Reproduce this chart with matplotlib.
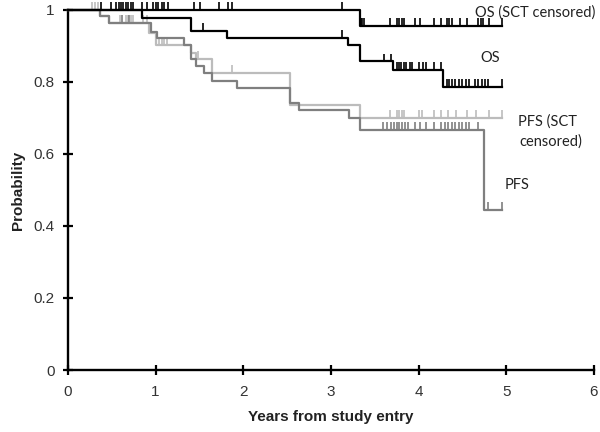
import numpy as np
import matplotlib
matplotlib.use("Agg")
import matplotlib.pyplot as plt

# step curves: times (years) and survival probability after each step
os_t = [0, 0.85, 1.40, 1.81, 3.19, 3.33, 3.71, 4.28, 4.95]
os_s = [1.0, 0.978, 0.942, 0.921, 0.902, 0.857, 0.833, 0.786, 0.786]
os_cens = [1.54, 3.13, 3.60, 3.68, 3.75, 3.78, 3.80, 3.83, 3.86, 3.90, 3.93,
           4.00, 4.05, 4.09, 4.17, 4.25, 4.32, 4.35, 4.38, 4.42, 4.46, 4.50,
           4.54, 4.58, 4.64, 4.68, 4.72, 4.76, 4.79, 4.95]

os_sct_t = [0, 3.33, 4.95]
os_sct_s = [1.0, 0.955, 0.955]
os_sct_cens = [0.38, 0.49, 0.55, 0.58, 0.61, 0.63, 0.66, 0.69, 0.72, 0.74,
               0.85, 0.90, 0.97, 1.00, 1.03, 1.07, 1.10, 1.14, 1.44, 1.51,
               1.72, 1.83, 1.87, 3.13, 3.34, 3.36, 3.38, 3.67, 3.75, 3.78,
               3.81, 3.83, 3.96, 4.02, 4.17, 4.25, 4.32, 4.35, 4.38, 4.47,
               4.55, 4.68, 4.71, 4.74, 4.80, 4.95]

pfs_sct_t = [0, 0.37, 0.47, 0.93, 1.00, 1.40, 1.46, 1.64, 2.53, 3.33, 4.95]
pfs_sct_s = [1.0, 0.983, 0.963, 0.935, 0.903, 0.88, 0.863, 0.824, 0.736, 0.70, 0.70]
pfs_sct_cens = [0.28, 0.31, 0.34, 0.59, 0.66, 0.69, 0.72, 0.74, 0.86, 0.90,
                1.04, 1.07, 1.10, 1.13, 1.49, 1.87, 3.67, 3.75, 3.78, 3.81,
                3.83, 4.00, 4.04, 4.17, 4.25, 4.34, 4.43, 4.55, 4.66, 4.80, 4.95]

pfs_t = [0, 0.37, 0.47, 0.95, 1.02, 1.32, 1.40, 1.46, 1.55, 1.64, 1.93, 2.53,
         2.64, 3.21, 3.33, 4.75, 4.95]
pfs_s = [1.0, 0.983, 0.963, 0.940, 0.921, 0.903, 0.863, 0.843, 0.824, 0.804,
         0.782, 0.741, 0.722, 0.70, 0.667, 0.444, 0.444]
pfs_cens = [0.62, 0.70, 3.59, 3.64, 3.69, 3.72, 3.75, 3.78, 3.81, 3.85, 3.88,
            3.96, 4.02, 4.09, 4.17, 4.25, 4.30, 4.34, 4.38, 4.42, 4.46, 4.50,
            4.54, 4.57, 4.68, 4.79, 4.95]

x_ticks = [0, 1, 2, 3, 4, 5, 6]
y_ticks = [0, 0.2, 0.4, 0.6, 0.8, 1]
y_labels = ["0", "0.2", "0.4", "0.6", "0.8", "1"]


def draw_curve(ax, t, s, cens, color):
    ax.step(t, s, where="post", color=color, lw=1.6, clip_on=False, zorder=3)
    t = np.asarray(t)
    s = np.asarray(s)
    idx = np.searchsorted(t, cens, side="right") - 1
    y = s[idx]
    ax.vlines(cens, y, y + 0.022, color=color, lw=1.2, clip_on=False, zorder=3)


fig = plt.figure(figsize=(6, 4.32), dpi=100)
ax = fig.add_axes([0.113, 0.1435, 0.877, 0.8335])

draw_curve(ax, pfs_sct_t, pfs_sct_s, pfs_sct_cens, "#bcbcbc")
draw_curve(ax, pfs_t, pfs_s, pfs_cens, "#7f7f7f")
draw_curve(ax, os_sct_t, os_sct_s, os_sct_cens, "black")
draw_curve(ax, os_t, os_s, os_cens, "black")

ax.set_xlim(0, 6)
ax.set_ylim(0, 1)
ax.set_xticks(x_ticks)
ax.set_yticks(y_ticks)
ax.set_yticklabels(y_labels)
for side in ["top", "right"]:
    ax.spines[side].set_visible(False)
for side in ["left", "bottom"]:
    ax.spines[side].set_linewidth(1.7)
ax.tick_params(direction="inout", length=7, width=1.6, labelsize=11,
               labelcolor="#333333")
for lab in ax.get_xticklabels() + ax.get_yticklabels():
    lab.set_family("Liberation Sans")
ax.tick_params(axis="x", pad=7)
ax.tick_params(axis="y", pad=6)

ax.set_xlabel("Years from study entry", fontsize=11, fontweight="bold",
              family="Liberation Sans", labelpad=8, color="#222222")
ax.set_ylabel("Probability", fontsize=11, fontweight="bold",
              family="Liberation Sans", labelpad=6, color="#222222")

lab_font = dict(family="Lato", fontsize=10.5, color="#222222", va="center")
ax.text(4.64, 0.993, "OS (SCT censored)", clip_on=False, **lab_font)
ax.text(4.70, 0.866, "OS", **lab_font)
ax.text(5.13, 0.69, "PFS (SCT", **lab_font)
ax.text(5.15, 0.634, "censored)", **lab_font)
ax.text(4.98, 0.515, "PFS", **lab_font)

fig.savefig("out.png", dpi=100)
